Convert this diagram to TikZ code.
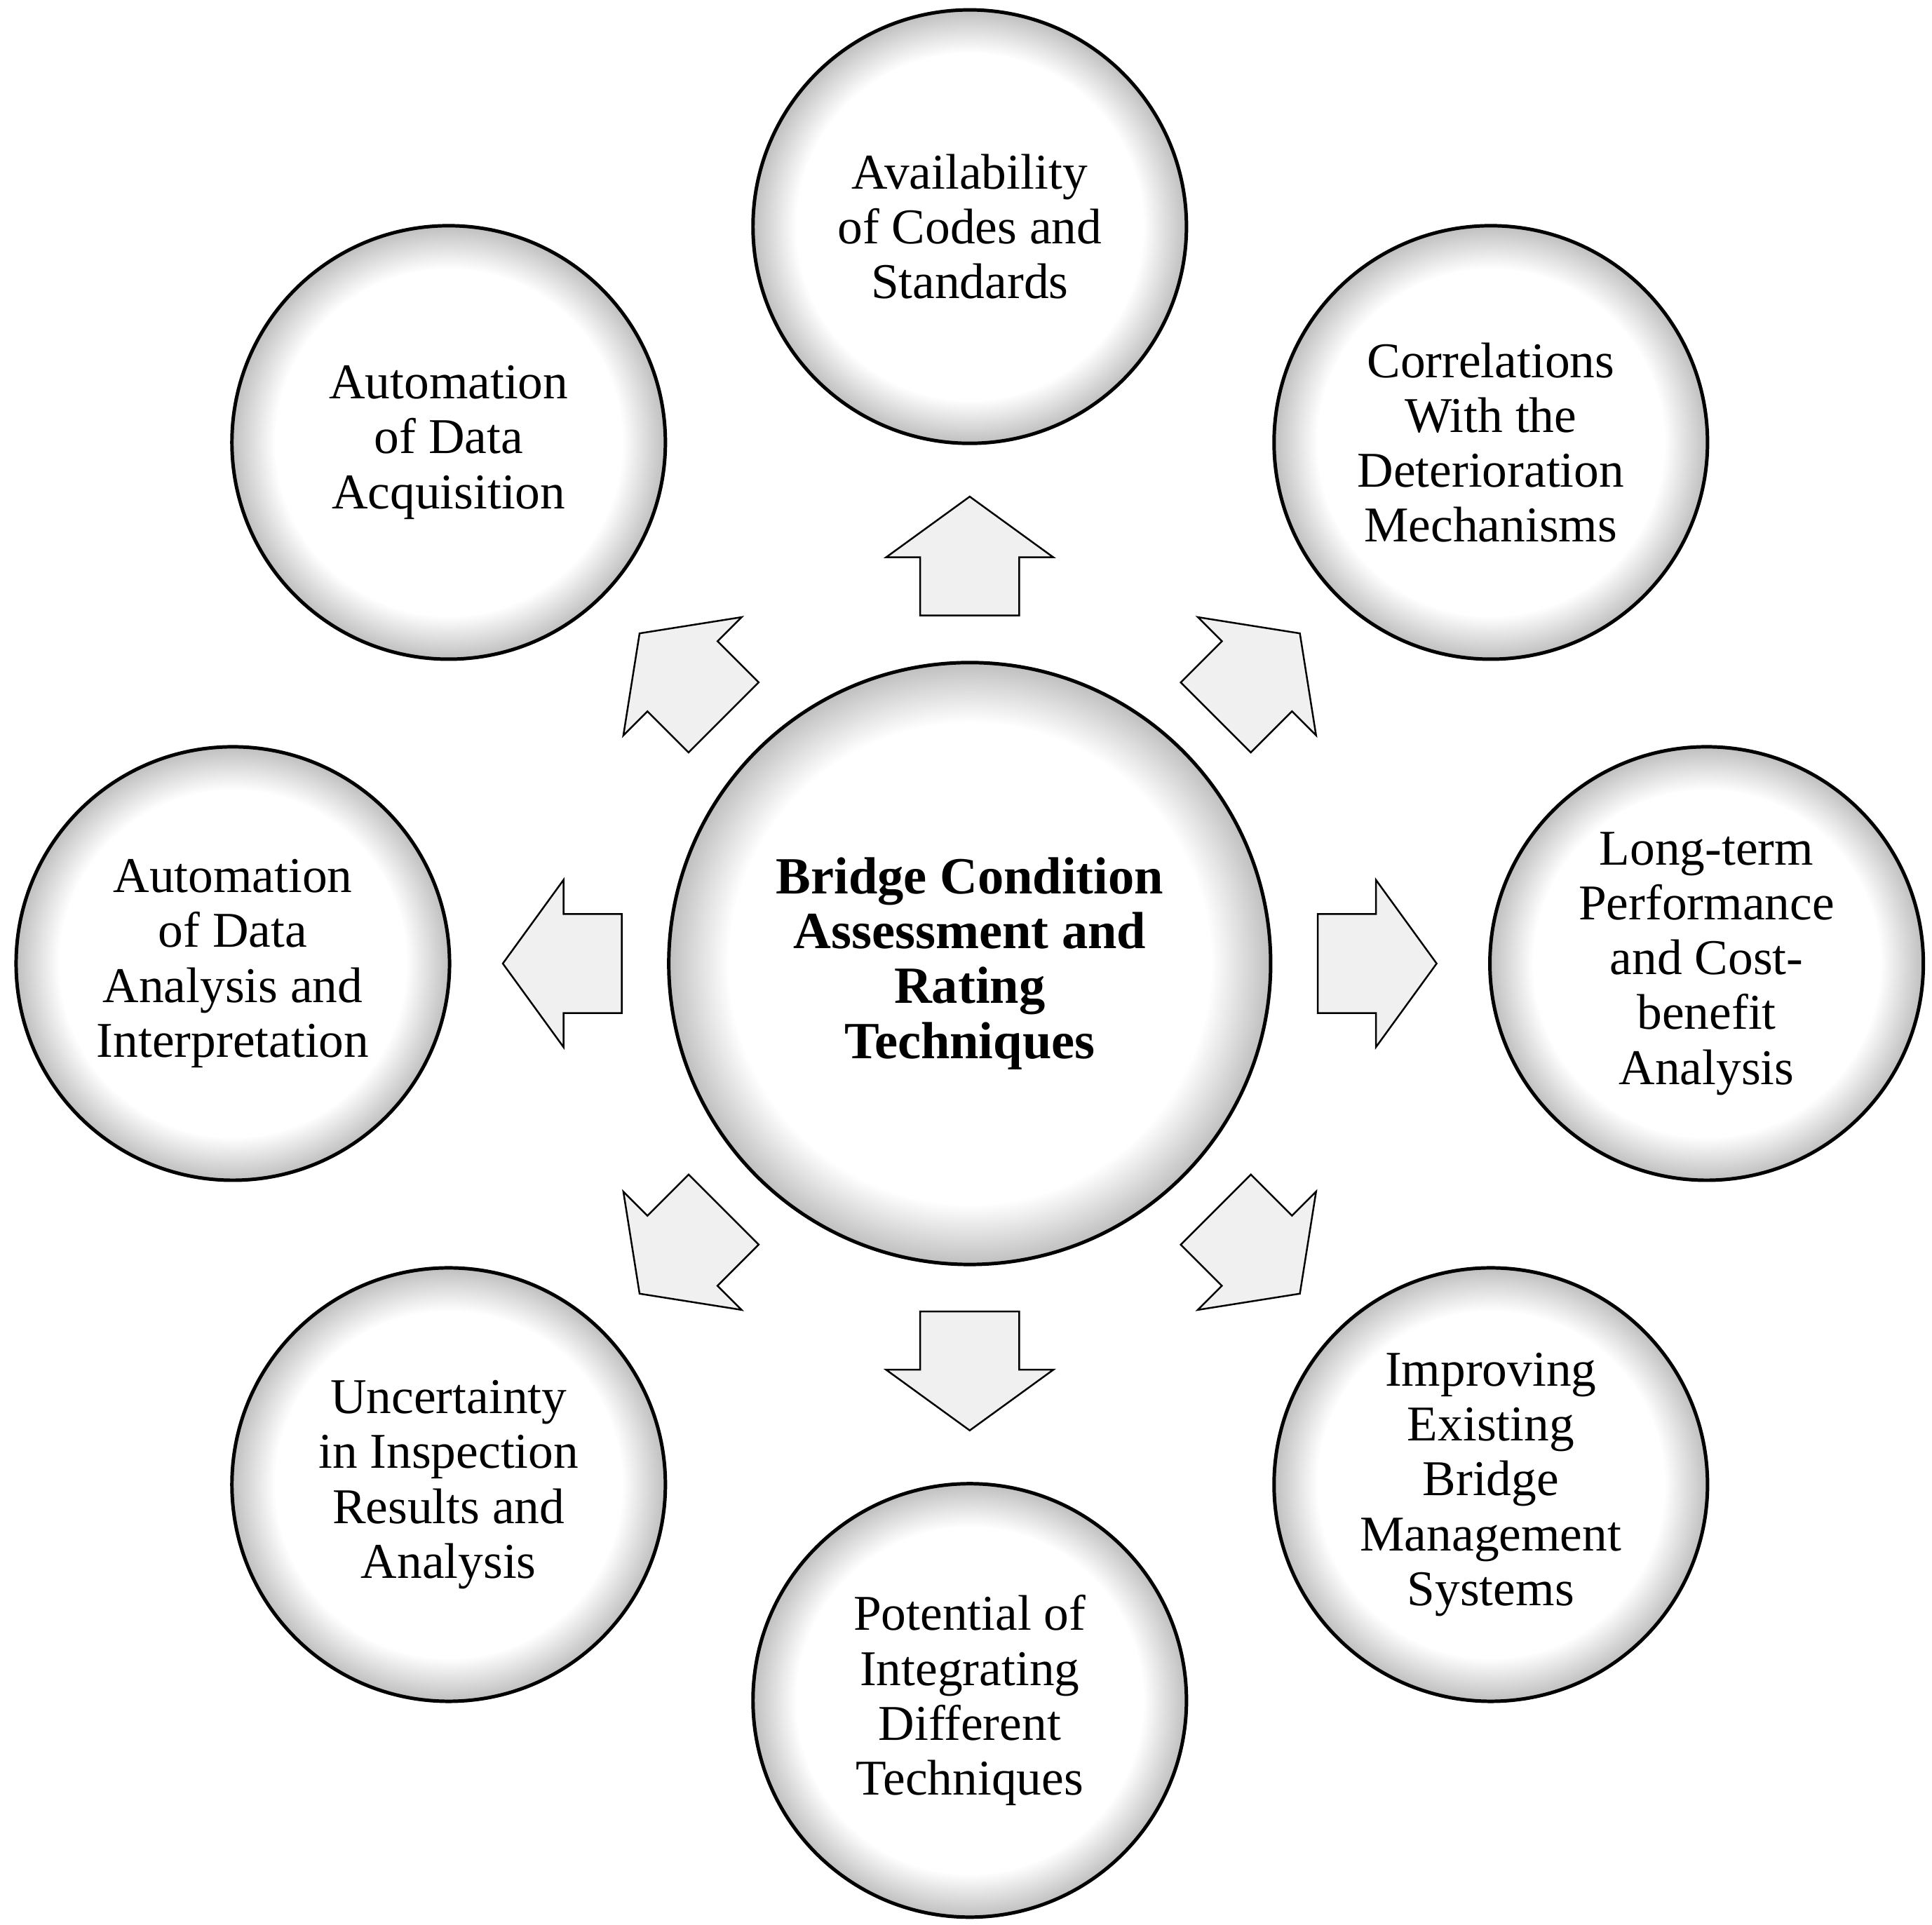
\documentclass[tikz,border=0pt]{standalone}
\usepackage{fontspec}
\setmainfont{Liberation Serif}
\pgfdeclareradialshading{rim}{\pgfpoint{0cm}{0cm}}{color(0bp)=(white); color(20bp)=(white); color(25bp)=(gray!50)}
\tikzset{
  topic/.style={circle,draw=black,thick,shading=rim,minimum size=3.5cm,align=center,
    font=\fontsize{11.5}{12.6}\selectfont,inner sep=0pt},
  hub/.style={topic,minimum size=4.86cm,font=\bfseries\fontsize{12}{12.6}\selectfont},
  outarrow/.style={draw=black,fill=gray!12,line join=miter}
}
\begin{document}
\begin{tikzpicture}
  \useasboundingbox (-7.83,-7.76) rectangle (7.77,7.78);
  % Central topic
  \node[hub] (hub) at (0,0) {Bridge Condition\\Assessment and\\Rating\\Techniques};
  % Surrounding topics
  \node[topic] (codes) at (90:5.95) {Availability\\of Codes and\\Standards};
  \node[topic] (deter) at (45:5.95) {Correlations\\With the\\Deterioration\\Mechanisms};
  \node[topic] (cost) at (0:5.95) {Long-term\\Performance\\and Cost-\\benefit\\Analysis};
  \node[topic] (bms) at (-45:5.95) {Improving\\Existing\\Bridge\\Management\\Systems};
  \node[topic] (integ) at (-90:5.95) {Potential of\\Integrating\\Different\\Techniques};
  \node[topic] (uncert) at (-135:5.95) {Uncertainty\\in Inspection\\Results and\\Analysis};
  \node[topic] (analysis) at (180:5.95) {Automation\\of Data\\Analysis and\\Interpretation};
  \node[topic] (acq) at (135:5.95) {Automation\\of Data\\Acquisition};
  % Block arrows pointing outwards
  \foreach \a in {0,45,...,315}
    \draw[outarrow,rotate=\a] (2.81,-0.4) -- (3.28,-0.4) -- (3.28,-0.675) -- (3.77,0)
      -- (3.28,0.675) -- (3.28,0.4) -- (2.81,0.4) -- cycle;
\end{tikzpicture}
\end{document}
